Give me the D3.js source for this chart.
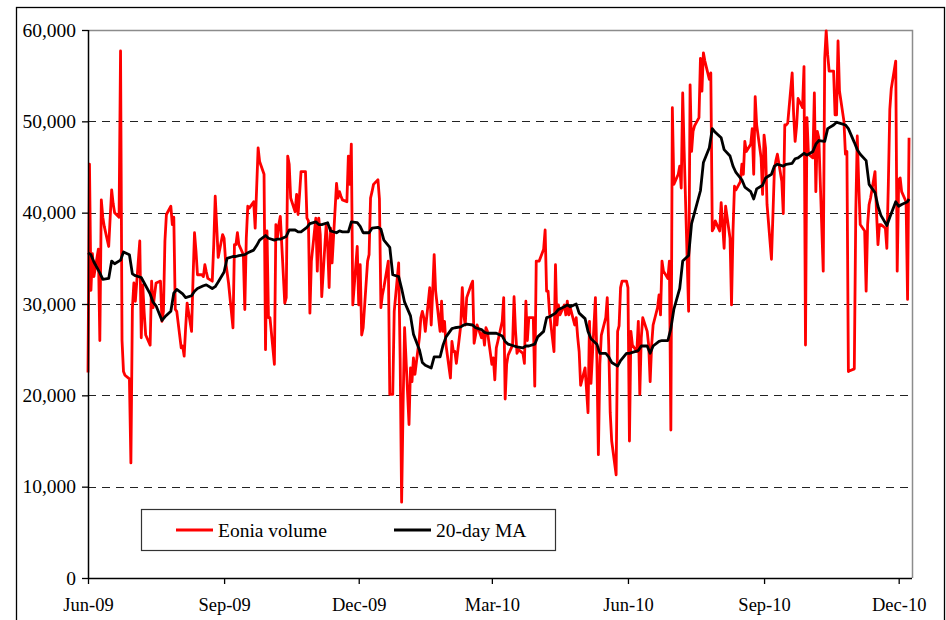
<!DOCTYPE html>
<html lang="en">
<head>
    <meta charset="UTF-8">
    <title>Eonia volume</title>
    <script src="https://d3js.org/d3.v7.min.js"></script>
</head>
<body>
    <div id="chart"></div>

    <script>
        // Eonia volume (thousands), one value per business day from 1 Jun 2009
        const startDay = new Date(2009, 5, 1);
        const volume = [
            22.5, 45.3, 31.5, 35.5, 33, 36, 26, 41.4, 39.5, 38.5,
            36.3, 39.5, 42.5, 41, 40, 39.5, 57.7, 26, 22.6, 22.2,
            21.8, 12.6, 29.5, 32.3, 30.3, 36.9, 26.3, 32.1, 29, 26.6,
            25.5, 32.5, 29.6, 31, 32.3, 32.5, 28.1, 29.2, 36.9, 39.8,
            40.7, 38.7, 39.5, 29.4, 29.2, 25.2, 25.4, 24.3, 27.4, 30.1,
            27, 32.8, 37.8, 35.8, 33.2, 33.2, 33, 34.3, 33.5, 32.8,
            32.5, 36.5, 41.8, 38.5, 35.1, 37.6, 37.2, 34.7, 33.5, 32.3,
            27.4, 36.5, 36.5, 37.8, 36.5, 35.4, 29.4, 37.2, 40.7, 40.5,
            41.2, 38.3, 42.7, 47.1, 45.6, 44.2, 25, 38, 28.5, 28.5,
            23.4, 38.7, 37.2, 38.7, 39.6, 30.1, 30.7, 46.2, 45.3, 41.6,
            40.1, 42, 39.8, 42, 44.5, 44.5, 39.4, 39.1, 29, 34.7,
            39.4, 33.6, 39.4, 37.6, 30.8, 38.7, 36.5, 31.8, 38.3, 34.5,
            43.2, 41.6, 42.3, 41.8, 41.4, 41.2, 46.2, 43.1, 47.5, 29.9,
            36.3, 29.9, 34.3, 26.6, 27.4, 34.7, 35.4, 41.6, 42.3, 43.1,
            43.6, 41.5, 29.6, 31, 31.8, 34.7, 20.1, 20.1, 20.1, 29.2,
            34.5, 24.1, 8.3, 19, 27.4, 16.8, 23, 21.5, 24.1, 22.3,
            26.3, 28.5, 29.2, 28.5, 27, 31.8, 27.7, 31.4, 35.4, 31.4,
            27, 30.3, 27, 28.1, 25.5, 21.9, 25.9, 24.8, 24.8, 23.5,
            27.7, 31.8, 28.8, 27.7, 30.7, 32.1, 32.5, 25.7, 26.6, 27.7,
            26.3, 27, 25.5, 27.4, 27, 23.4, 24.1, 21.7, 25.2, 25.9,
            28.1, 30.7, 19.6, 23.4, 24.4, 25.5, 30.8, 27, 24.6, 25,
            24.6, 23.5, 30.3, 26, 28.5, 28.5, 21, 34.7, 34.7, 34.7,
            36, 38.1, 31.4, 31.4, 29, 24.8, 34.3, 27.7, 29.9, 28.8,
            29.9, 28.8, 30.3, 28.8, 29.6, 27.7, 28.5, 26.4, 24.8, 21.1,
            23, 20.6, 18.1, 28.1, 21.3, 30.7, 24, 13.5, 23.4, 26.6,
            28.5, 30.7, 25.5, 18.1, 15, 11.3, 27, 27.6, 31.8, 32.5,
            32.5, 31.8, 15, 27, 25.5, 24.8, 28.1, 20.1, 26.3, 28.5,
            27, 25.5, 21.5, 25.5, 27.7, 29.6, 31, 28.8, 34.7, 33.6,
            32.8, 34.7, 16.2, 51.5, 43.1, 44.2, 45.1, 42.7, 53.1, 46.7,
            29.2, 54, 46.7, 48.9, 49.5, 50.4, 56.9, 53.3, 57.5, 56.6,
            54.6, 55.3, 38, 38.3, 39.1, 38, 41.1, 38.7, 36.1, 40.7,
            37.2, 29.9, 38, 42.9, 42.5, 43.4, 45.3, 44.2, 47.8, 46.7,
            47.5, 49.2, 44.2, 52.7, 49.6, 46, 42, 48.5, 47.1, 40.9,
            34.9, 39.8, 44.8, 45.7, 46.4, 43.4, 39.9, 49.6, 49.6, 49.8,
            55.3, 50.7, 47.8, 49.5, 52.5, 51.5, 56, 25.5, 50.4, 46.4,
            46, 53.1, 42.3, 48.9, 48.2, 33.6, 56.9, 59.9, 57.3, 55.5,
            55.5, 50.7, 50.7, 58.8, 53.3, 50, 46.4, 46.7, 22.6, 22.7,
            22.9, 40.1, 48.4, 43.1, 38.7, 38, 31.4, 38.7, 40.9, 41.6,
            44.5, 40.1, 36.5, 38.7, 38.7, 38.3, 36.1, 43.1, 51.3, 53.6,
            56.6, 33.6, 43.6, 43.8, 42.3, 41.2, 30.5, 48.2
        ];

        // 20-day moving average (thousands), read every 2nd business day plus the last day
        const maValues = [
            35.6, 35.4, 34.6, 33.4, 32.7, 32.8, 34.7, 34.4, 34.8, 35.7,
            35.4, 33.3, 33.1, 32.9, 32.3, 31.1, 30.2, 29.8, 28.2, 28.6,
            29.2, 31.2, 31.6, 31.1, 30.7, 30.9, 31.4, 31.7, 32.0, 32.1,
            31.7, 31.9, 32.4, 33.5, 35.0, 35.2, 35.2, 35.3, 35.4, 35.6,
            35.9, 36.4, 37.0, 37.5, 37.2, 37.0, 37.1, 37.1, 37.4, 38.1,
            38.1, 37.9, 37.9, 38.4, 38.8, 39.0, 38.7, 38.7, 38.9, 38.0,
            37.8, 38.0, 37.9, 37.9, 39.0, 38.9, 38.5, 37.8, 37.8, 38.3,
            38.4, 38.2, 37.0, 36.2, 33.2, 33.0, 31.7, 30.2, 28.7, 26.7,
            25.0, 23.6, 23.3, 23.0, 24.2, 24.2, 25.5, 26.4, 27.3, 27.4,
            27.5, 27.7, 27.8, 27.7, 27.4, 27.2, 26.9, 26.8, 26.8, 26.8,
            26.5, 25.9, 25.6, 25.4, 25.3, 25.2, 25.4, 25.4, 25.6, 26.4,
            27.0, 28.5, 28.6, 29.0, 29.4, 29.7, 29.9, 29.7, 30.0, 29.0,
            28.4, 27.0, 26.2, 25.6, 24.6, 24.6, 24.2, 23.6, 23.2, 23.8,
            24.6, 24.6, 24.7, 24.9, 25.4, 25.4, 24.6, 25.4, 25.9, 26.0,
            26.0, 27.3, 29.4, 31.7, 34.7, 35.3, 38.8, 40.0, 42.4, 45.5,
            47.1, 49.2, 48.8, 48.2, 46.9, 46.2, 45.1, 44.4, 43.6, 42.8,
            42.3, 41.5, 42.6, 43.0, 43.8, 44.2, 45.1, 45.3, 45.1, 45.3,
            45.4, 45.9, 46.0, 46.5, 46.3, 46.7, 47.5, 47.9, 47.8, 49.2,
            49.6, 49.9, 49.8, 49.6, 49.2, 47.7, 46.9, 46.4, 45.7, 43.1,
            42.2, 40.7, 39.7, 38.6, 39.5, 41.2, 40.7, 40.9, 41.2, 41.5
        ];
        const maDays = d3.range(0, 397, 2).concat([397]);

        const yTicks = [0, 10000, 20000, 30000, 40000, 50000, 60000];
        const xTickLabels = ['Jun-09', 'Sep-09', 'Dec-09', 'Mar-10', 'Jun-10', 'Sep-10', 'Dec-10'];
        const seriesNames = ['Eonia volume', '20-day MA'];
        const seriesColors = ['#ff0000', '#000000'];

        // business days (Mon-Fri) starting at startDay
        const days = [];
        for (let d = new Date(startDay); days.length < volume.length; d = d3.timeDay.offset(d, 1)) {
            if (d.getDay() !== 0 && d.getDay() !== 6) days.push(new Date(d));
        }
        const volData = volume.map((v, i) => ({ date: days[i], value: v * 1000 }));
        const maData = maValues.map((v, i) => ({ date: days[maDays[i]], value: v * 1000 }));

        const width = 946;
        const height = 620;
        const margin = { left: 88, right: 34, top: 30, bottom: 42 };

        const svg = d3.select('#chart')
            .append('svg')
            .attr('width', width)
            .attr('height', height);

        // outer frame
        svg.append('rect')
            .attr('x', 16.5)
            .attr('y', 7.5)
            .attr('width', 928)
            .attr('height', 700)
            .attr('fill', 'none')
            .attr('stroke', '#000')
            .attr('stroke-width', 1.3);

        const x = d3.scaleTime()
            .domain([startDay, new Date(2010, 11, 10)])
            .range([margin.left, width - margin.right]);

        const y = d3.scaleLinear()
            .domain([0, 60000])
            .range([height - margin.bottom, margin.top]);

        // gridlines
        svg.append('g')
            .selectAll('line')
            .data(yTicks.filter(t => t > 0 && t < 60000))
            .enter()
            .append('line')
            .attr('x1', margin.left)
            .attr('x2', width - margin.right)
            .attr('y1', d => Math.round(y(d)) + 0.5)
            .attr('y2', d => Math.round(y(d)) + 0.5)
            .attr('stroke', '#222')
            .attr('stroke-dasharray', '8,6');

        // plot frame (top and right)
        svg.append('path')
            .attr('d', `M${margin.left},${margin.top + 0.5}H${width - margin.right + 0.5}V${height - margin.bottom}`)
            .attr('fill', 'none')
            .attr('stroke', '#8c8c8c')
            .attr('stroke-width', 1.5);

        const line = d3.line()
            .x(d => x(d.date))
            .y(d => y(d.value));

        svg.append('path')
            .datum(volData)
            .attr('fill', 'none')
            .attr('stroke', seriesColors[0])
            .attr('stroke-width', 2.8)
            .attr('stroke-linejoin', 'round')
            .attr('d', line);

        svg.append('path')
            .datum(maData)
            .attr('fill', 'none')
            .attr('stroke', seriesColors[1])
            .attr('stroke-width', 2.8)
            .attr('stroke-linejoin', 'round')
            .attr('d', line);

        const font = '"Liberation Serif", "Times New Roman", serif';

        // axes
        const yAxis = svg.append('g')
            .attr('transform', `translate(${margin.left},0)`)
            .call(d3.axisLeft(y).tickValues(yTicks).tickFormat(d3.format(',')).tickSize(6).tickPadding(6));

        const parseLabel = d3.timeParse('%b-%y');
        const xAxis = svg.append('g')
            .attr('transform', `translate(0,${height - margin.bottom})`)
            .call(d3.axisBottom(x)
                .tickValues(xTickLabels.map(parseLabel))
                .tickFormat(d3.timeFormat('%b-%y'))
                .tickSize(6)
                .tickPadding(14));

        [yAxis, xAxis].forEach(g => {
            g.attr('font-family', null).attr('font-size', null);
            g.select('.domain').attr('stroke', '#000').attr('stroke-width', 1.5);
            g.selectAll('.tick line').attr('stroke', '#000').attr('stroke-width', 1.3);
            g.selectAll('.tick text')
                .attr('fill', '#000')
                .style('font-family', font);
        });
        yAxis.selectAll('.tick text').style('font-size', '19.5px');
        xAxis.selectAll('.tick text').style('font-size', '18.5px');
        yAxis.select('.domain').attr('d', `M0.5,${height - margin.bottom}V${margin.top}`);
        xAxis.select('.domain').attr('d', `M${margin.left},0.5H${width - margin.right}`);

        // legend
        const legend = svg.append('g')
            .attr('transform', 'translate(141,509)');

        legend.append('rect')
            .attr('x', 0.5)
            .attr('y', 0.5)
            .attr('width', 414)
            .attr('height', 41)
            .attr('fill', '#fff')
            .attr('stroke', '#333')
            .attr('stroke-width', 1.2);

        const items = legend.selectAll('.item')
            .data(seriesNames)
            .enter()
            .append('g')
            .attr('class', 'item')
            .attr('transform', (d, i) => `translate(${i === 0 ? 35 : 253},21)`);

        items.append('line')
            .attr('x1', 0)
            .attr('x2', 37)
            .attr('stroke', (d, i) => seriesColors[i])
            .attr('stroke-width', 3);

        items.append('text')
            .attr('x', 42)
            .attr('dy', '.35em')
            .style('font-family', font)
            .style('font-size', '19.5px')
            .text(d => d);
    </script>
</body>
<style>
    body {
        margin: 0;
        background: #fff;
    }
</style>
</html>
